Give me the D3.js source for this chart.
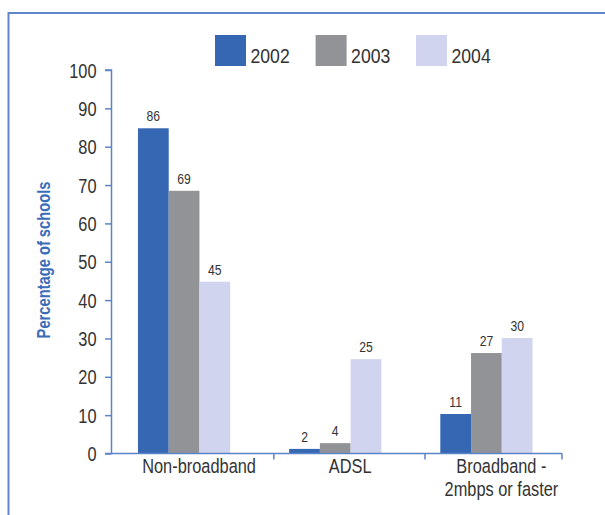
<!DOCTYPE html>
<html>
<head>
<meta charset="utf-8">
<script src="https://cdn.jsdelivr.net/npm/d3@7"></script>
<style>
  html, body { margin: 0; padding: 0; background: #fff; }
  svg { display: block; }
  text { font-family: "Liberation Sans", Arial, sans-serif; }
</style>
</head>
<body>
<svg id="chart" width="605" height="515"></svg>
<script>
// ---- data ----
const categories = ["Non-broadband", "ADSL", "Broadband -\n2mbps or faster"];
const series = ["2002", "2003", "2004"];
// bar heights as drawn (percentage of schools)
const values2002 = [84.8, 1.2, 10.3];
const values2003 = [68.5, 2.7, 26.2];
const values2004 = [44.8, 24.6, 30.1];
// printed value labels
const labels2002 = [86, 2, 11];
const labels2003 = [69, 4, 27];
const labels2004 = [45, 25, 30];
const yTicks = [0, 10, 20, 30, 40, 50, 60, 70, 80, 90, 100];
const colors = ["#3567b3", "#929396", "#d0d4ee"];
const yTitle = "Percentage of schools";

const seriesValues = [values2002, values2003, values2004];
const seriesLabels = [labels2002, labels2003, labels2004];

const SX = 0.84; // horizontal condensing to mimic a narrow typeface
const svg = d3.select("#chart");
const axisColor = "#5b84c8";
const textColor = "#333";

function place(sel, px, py) {
  return sel.attr("x", 0).attr("y", 0)
    .attr("transform", `translate(${px},${py}) scale(${SX},1)`);
}

// frame
svg.append("path")
  .attr("d", "M8.5,515 L8.5,13 L605,13")
  .attr("fill", "none")
  .attr("stroke", "#5f86c8")
  .attr("stroke-width", 2);

// scales
const y = d3.scaleLinear().domain([0, 100]).range([453.5, 70]);
const x = d3.scaleBand().domain(categories).range([108.5, 562])
  .paddingInner(0.39).paddingOuter(0.195);
const xs = d3.scaleBand().domain(series).range([0, x.bandwidth()]);
const axisX = 111.5;

// bars
const g = svg.append("g");
categories.forEach((c, ci) => {
  series.forEach((s, si) => {
    const v = seriesValues[si][ci];
    g.append("rect")
      .attr("x", x(c) + xs(s))
      .attr("y", y(v))
      .attr("width", xs.bandwidth())
      .attr("height", y(0) - y(v))
      .attr("fill", colors[si]);
    place(g.append("text"), x(c) + xs(s) + xs.bandwidth() / 2, y(v) - 7)
      .attr("text-anchor", "middle")
      .attr("font-size", 14.5)
      .attr("fill", textColor)
      .text(seriesLabels[si][ci]);
  });
});

// y axis
const yAxis = svg.append("g")
  .attr("transform", `translate(${axisX},0)`)
  .call(d3.axisLeft(y).tickValues(yTicks).tickSize(6.5).tickPadding(8).tickFormat(d3.format("d")));
yAxis.select(".domain").attr("stroke", axisColor).attr("stroke-width", 1.5)
  .attr("d", `M-6.5,${y(100)}H0V${y(0)}`);
yAxis.selectAll(".tick line").attr("stroke", axisColor).attr("stroke-width", 1.5);
yAxis.selectAll(".tick text")
  .attr("font-size", 19.5).attr("fill", textColor)
  .attr("x", null).attr("dy", null)
  .attr("transform", `translate(-15,7) scale(${SX},1)`);

// x axis line and separators
const xg = svg.append("g");
const gap = x.step() - x.bandwidth();
xg.append("line")
  .attr("x1", 105).attr("x2", x.range()[1])
  .attr("y1", y(0)).attr("y2", y(0))
  .attr("stroke", axisColor).attr("stroke-width", 1.5);
const seps = categories.map((c, i) => i < categories.length - 1 ? x(c) + x.bandwidth() + gap * 0.74 : x.range()[1]);
seps.forEach(sx => {
  xg.append("line")
    .attr("x1", sx).attr("x2", sx)
    .attr("y1", y(0)).attr("y2", y(0) + 6)
    .attr("stroke", axisColor).attr("stroke-width", 1.5);
});
categories.forEach(c => {
  c.split("\n").forEach((ln, i) => {
    place(xg.append("text"), x(c) + x.bandwidth() / 2 + 15, 473 + i * 23)
      .attr("text-anchor", "middle")
      .attr("font-size", 19.5)
      .attr("fill", textColor)
      .text(ln);
  });
});

// y title
svg.append("text")
  .attr("transform", `translate(50,260) rotate(-90) scale(${SX},1)`)
  .attr("text-anchor", "middle")
  .attr("font-size", 17.5)
  .attr("font-weight", "bold")
  .attr("fill", "#3a6cb8")
  .text(yTitle);

// legend
const legendX = [215, 315.6, 416];
const lg = svg.append("g");
series.forEach((s, i) => {
  lg.append("rect")
    .attr("x", legendX[i]).attr("y", 35)
    .attr("width", 31).attr("height", 31)
    .attr("fill", colors[i]);
  place(lg.append("text"), legendX[i] + 35.5, 62.5)
    .attr("font-size", 21)
    .attr("fill", textColor)
    .text(s);
});
</script>
</body>
</html>
